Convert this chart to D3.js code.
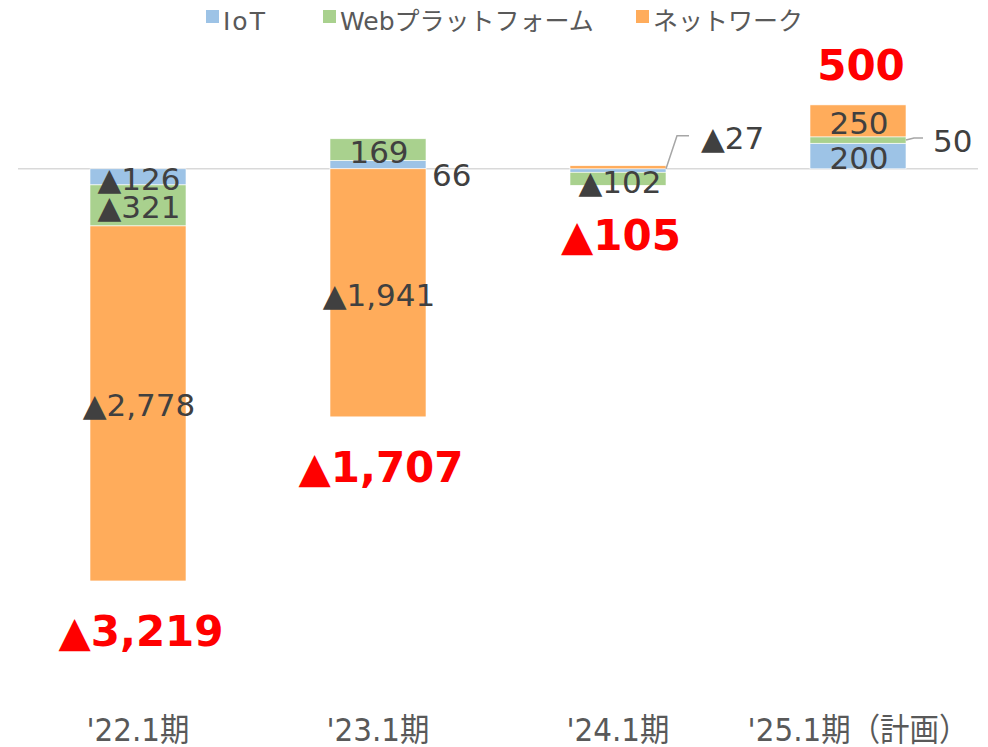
<!DOCTYPE html>
<html><head><meta charset="utf-8">
<script src="https://cdn.jsdelivr.net/npm/d3@7"></script>
<style>body{margin:0;background:#fff}svg{display:block}</style>
</head><body>
<svg id="c" width="988" height="747"></svg>
<script>
const categories = ["'22.1期", "'23.1期", "'24.1期", "'25.1期（計画）"];
const seriesNames = ["IoT", "Webプラットフォーム", "ネットワーク"];
const iot = [-126, 66, -27, 200];
const web = [-321, 169, -102, 50];
const network = [-2778, -1941, 24, 250];
const totals = [-3219, -1707, -105, 500];
const colors = ["#9dc3e6", "#a9d18e", "#ffac5b"];

const FONT = "'DejaVu Sans','Noto Sans CJK JP',sans-serif";
const svg = d3.select("#c");
const x = d3.scaleBand().domain(categories).range([18, 978]).paddingInner(0.6).paddingOuter(0.3);
const y = d3.scaleLinear().domain([-4000, 1000]).range([680, 41]);

const rows = categories.map((c, i) => ({cat: c, IoT: iot[i], "Webプラットフォーム": web[i], "ネットワーク": network[i]}));
const stack = d3.stack().keys(seriesNames).offset(d3.stackOffsetDiverging)(rows);

// zero line
svg.append("line").attr("x1", 18).attr("x2", 978).attr("y1", y(0)).attr("y2", y(0))
  .attr("stroke", "#d9d9d9").attr("stroke-width", 1.5);

const fmt = v => (v < 0 ? "▲" : "") + d3.format(",")(Math.abs(v));

svg.selectAll("g.s").data(stack).join("g").attr("class", "s")
  .attr("fill", (d, i) => colors[i])
  .selectAll("rect").data(d => d).join("rect")
  .attr("x", d => x(d.data.cat))
  .attr("width", x.bandwidth())
  .attr("y", d => y(Math.max(d[0], d[1])))
  .attr("height", d => Math.abs(y(d[0]) - y(d[1])))
  .attr("stroke", "#fff").attr("stroke-width", 0.6);

// data labels
const lab = svg.append("g").attr("font-family", FONT).attr("fill", "#404040").attr("font-size", 31);
stack.forEach((s, si) => {
  s.forEach((d, ci) => {
    const v = d.data[s.key];
    const cx = x(d.data.cat) + x.bandwidth() / 2;
    const mid = (y(d[0]) + y(d[1])) / 2;
    const bx = x(d.data.cat) + x.bandwidth();
    if (ci === 1 && si === 0) { // '23 IoT 66 (outside right)
      lab.append("text").attr("x", bx + 6).attr("y", y(0) + 17).text(fmt(v));
      return;
    }
    if (ci === 2 && si === 0) { // '24 IoT with leader
      svg.append("polyline").attr("points", `${bx},${y(0)} ${bx+11},${y(0)-33} ${bx+23},${y(0)-33}`)
        .attr("fill", "none").attr("stroke", "#a6a6a6").attr("stroke-width", 1.5);
      lab.append("text").attr("x", bx + 35).attr("y", y(0) - 20).text(fmt(v));
      return;
    }
    if (ci === 2 && si === 2) return; // '24 network label not shown
    if (ci === 2 && si === 1) { // '24 web below bar
      lab.append("text").attr("x", cx + 2).attr("y", y(d[1]) + 21).attr("text-anchor", "middle").text(fmt(v));
      return;
    }
    if (ci === 3 && si === 1) { // '25 web 50 with leader
      svg.append("polyline").attr("points", `${bx},${mid} ${bx+8},${mid-2} ${bx+17},${mid-2}`)
        .attr("fill", "none").attr("stroke", "#a6a6a6").attr("stroke-width", 1.5);
      lab.append("text").attr("x", bx + 27).attr("y", mid + 12).text(fmt(v));
      return;
    }
    lab.append("text").attr("x", cx + 1).attr("y", mid + 13).attr("text-anchor", "middle").text(fmt(v));
  });
});

// totals
const tot = svg.append("g").attr("font-family", FONT).attr("fill", "#ff0000").attr("font-weight", "bold").attr("font-size", 42);
totals.forEach((t, i) => {
  const cx = x(categories[i]) + x.bandwidth() / 2;
  let ty;
  if (t >= 0) ty = y(t) - 25;
  else {
    const neg = Math.min(0, iot[i]) + Math.min(0, web[i]) + Math.min(0, network[i]);
    ty = y(neg) + 65;
  }
  tot.append("text").attr("x", cx + 3).attr("y", ty).attr("text-anchor", "middle").text(fmt(t));
});

// x axis labels
const ax = d3.axisBottom(x).tickSize(0).tickPadding(0);
const axg = svg.append("g").attr("transform", "translate(0,741)").call(ax);
axg.select(".domain").remove();
axg.selectAll("text").attr("font-family", FONT).attr("font-size", 32).attr("fill", "#595959")
  .attr("dy", "0").attr("y", 0).attr("transform", "scale(0.92,1)");

// legend
const legX = [206, 323, 636];
const leg = svg.append("g").attr("font-family", FONT).attr("font-size", 25).attr("fill", "#595959");
seriesNames.forEach((n, i) => {
  leg.append("rect").attr("x", legX[i]).attr("y", 10).attr("width", 13).attr("height", 13).attr("fill", colors[i]);
  leg.append("text").attr("x", legX[i] + 17).attr("y", 30).attr("letter-spacing", i === 0 ? 2 : 0).text(n);
});
</script>
</body></html>
